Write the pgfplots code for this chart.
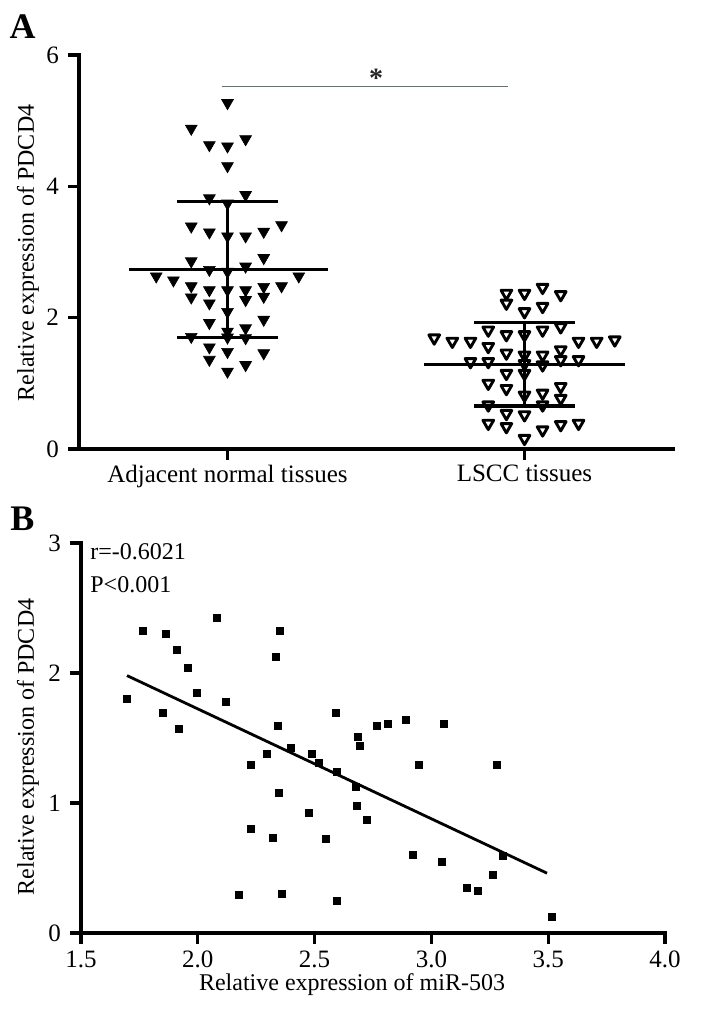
\documentclass[border=0pt]{standalone}
\usepackage{fontspec}
\setmainfont{Liberation Serif}
\usepackage{pgfplots}
\pgfplotsset{compat=1.18}
\usepackage{pgfplotstable}
\definecolor{sigline}{RGB}{105,112,112}

\pgfplotstableread{
x y
0 5.27
-0.122 4.88
-0.061 4.63
0 4.61
0.061 4.72
0 4.31
-0.061 3.82
0.061 3.87
0 3.74
-0.122 3.39
-0.061 3.30
0 3.24
0.061 3.24
0.122 3.31
0.182 3.41
-0.122 2.86
0.122 2.91
-0.061 2.73
0.061 2.78
0 2.70
-0.240 2.63
-0.182 2.57
0.240 2.63
0.182 2.48
-0.122 2.48
-0.061 2.42
0 2.42
0.061 2.42
0.122 2.47
-0.122 2.31
-0.061 2.22
0.061 2.27
0.122 2.32
0 2.09
-0.061 1.92
0.122 1.97
0 1.79
0.061 1.84
-0.122 1.71
0.061 1.69
0 1.70
-0.061 1.55
0 1.48
0.122 1.46
-0.061 1.36
0.061 1.28
0 1.18
}\adjacent

\pgfplotstableread{
x y
0.939 2.37
1.000 2.37
1.061 2.46
1.122 2.35
0.939 2.22
1.061 2.17
1.000 2.09
1.122 1.86
0.878 1.81
1.061 1.81
0.939 1.74
1.000 1.74
0.696 1.69
0.757 1.64
0.818 1.64
1.182 1.64
1.243 1.64
1.304 1.66
0.878 1.56
0.939 1.46
1.000 1.43
1.061 1.43
1.122 1.51
0.818 1.33
0.878 1.33
1.122 1.36
1.182 1.36
1.061 1.28
1.000 1.30
0.939 1.15
1.000 1.15
0.878 1.00
0.939 0.92
1.122 0.95
1.061 0.85
1.122 0.77
1.000 0.82
0.878 0.67
1.061 0.67
0.939 0.54
1.000 0.52
0.878 0.39
0.939 0.34
1.061 0.29
1.122 0.37
1.182 0.39
1.000 0.16
}\lscc

\pgfplotstableread{
x y
1.697 1.80
1.765 2.32
1.864 2.30
1.911 2.18
1.958 2.04
1.851 1.69
1.920 1.57
1.997 1.85
2.082 2.42
2.121 1.78
2.352 2.32
2.335 2.12
2.343 1.59
2.590 1.69
2.296 1.38
2.399 1.42
2.490 1.38
2.686 1.51
2.694 1.44
2.767 1.59
2.814 1.61
2.891 1.64
3.054 1.61
2.228 1.29
2.520 1.31
2.597 1.24
2.677 1.12
2.682 0.98
2.348 1.08
2.477 0.92
2.228 0.80
2.322 0.73
2.549 0.72
2.178 0.29
2.360 0.30
2.597 0.25
2.947 1.29
3.281 1.29
2.724 0.87
2.921 0.60
3.045 0.55
3.307 0.59
3.264 0.45
3.153 0.35
3.200 0.32
3.516 0.12
}\corr

\pgfplotsset{
  gp/.style={
    scale only axis,
    clip=false,
    axis x line*=bottom,
    axis y line*=left,
    axis line style={line width=1.7pt,-,line cap=rect},
    every tick/.style={line width=1.6pt,black},
    tick align=outside,
    major tick length=5.5pt,
    tick label style={font=\fontsize{12.5}{14}\selectfont},
    /pgf/number format/assume math mode=true,
  }
}

\begin{document}
\begin{tikzpicture}
\useasboundingbox (0,0) rectangle (354pt,506pt);

% ---------- Panel A ----------
\begin{axis}[gp,
  at={(39.5pt,281.5pt)}, anchor=south west,
  width=297pt, height=197pt,
  xmin=-0.5, xmax=1.5, ymin=0, ymax=6,
  xtick={0,1}, xticklabels={Adjacent normal tissues, LSCC tissues},
  ytick={0,2,4,6},
  xticklabel style={yshift=1pt},
  yticklabel style={xshift=-1pt},
]
\addplot[only marks, mark=triangle*, mark size=3.4pt,
  mark options={rotate=180, fill=black, draw=black, line width=0.3pt}]
  table[x=x,y=y]{\adjacent};
\addplot[only marks, mark=triangle, mark size=3.1pt,
  mark options={rotate=180, draw=black, line width=1.45pt, line join=round}]
  table[x=x,y=y]{\lscc};
% mean and SD, Adjacent
\addplot[line width=1.6pt, black] coordinates {(-0.331,2.73) (0.338,2.73)};
\addplot[line width=1.6pt, black] coordinates {(-0.169,3.77) (0.169,3.77)};
\addplot[line width=1.6pt, black] coordinates {(-0.169,1.70) (0.169,1.70)};
\addplot[line width=1.6pt, black] coordinates {(0,1.70) (0,3.77)};
% mean and SD, LSCC
\addplot[line width=1.6pt, black] coordinates {(0.662,1.29) (1.338,1.29)};
\addplot[line width=1.6pt, black] coordinates {(0.831,1.925) (1.169,1.925)};
\addplot[line width=1.6pt, black] coordinates {(0.831,0.655) (1.169,0.655)};
\addplot[line width=1.6pt, black] coordinates {(1,0.655) (1,1.925)};
% significance
\addplot[line width=0.8pt, sigline] coordinates {(-0.019,5.52) (0.944,5.52)};
\node[font=\fontsize{14}{14}\selectfont\bfseries, text=black!85] at (axis cs:0.5,5.64) {*};
\end{axis}

% ---------- Panel B ----------
\begin{axis}[gp,
  at={(40.5pt,39.5pt)}, anchor=south west,
  width=292pt, height=195pt,
  xmin=1.5, xmax=4, ymin=0, ymax=3,
  xtick={1.5,2.0,2.5,3.0,3.5,4.0},
  ytick={0,1,2,3},
  xticklabel style={/pgf/number format/.cd, fixed, fixed zerofill, precision=1},
  yticklabel style={xshift=-1pt},
]
\addplot[only marks, mark=square*, mark size=1.75pt,
  mark options={fill=black, draw=black}] table[x=x,y=y]{\corr};
\addplot[line width=1.4pt, black] coordinates {(1.697,1.98) (3.495,0.46)};
\end{axis}

% ---------- text ----------
\node[font=\fontsize{18}{20}\selectfont\bfseries] at (11.25pt,492.5pt) {A};
\node[font=\fontsize{18}{20}\selectfont\bfseries] at (11.25pt,246.5pt) {B};
\node[rotate=90, font=\fontsize{12}{14}\selectfont] at (14pt,379.5pt) {Relative expression of PDCD4};
\node[rotate=90, font=\fontsize{12}{14}\selectfont] at (14pt,132.5pt) {Relative expression of PDCD4};
\node[font=\fontsize{12}{14}\selectfont] at (176pt,13.5pt) {Relative expression of miR-503};
\node[anchor=west, font=\fontsize{12}{14}\selectfont, inner sep=0pt] at (45pt,230pt) {r=-0.6021};
\node[anchor=west, font=\fontsize{12}{14}\selectfont, inner sep=0pt] at (45pt,213.5pt) {P<0.001};
\end{tikzpicture}
\end{document}
